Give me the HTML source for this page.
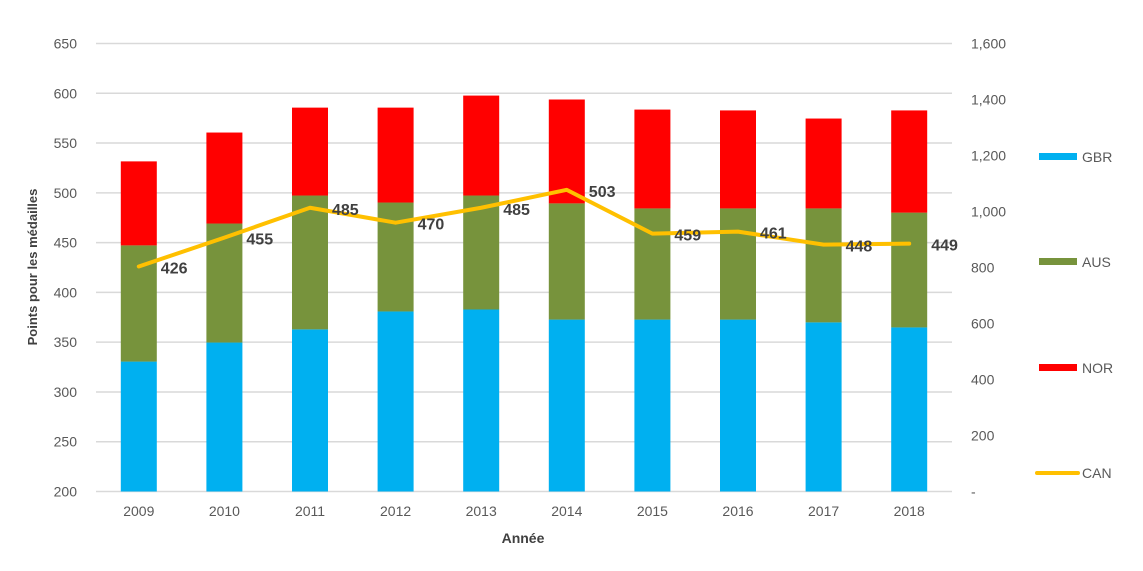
<!DOCTYPE html>
<html><head><meta charset="utf-8">
<style>
body{margin:0;background:#fff;}
svg text{font-family:"Liberation Sans",sans-serif;}
</style></head>
<body>
<svg id="chart" width="1143" height="566" xmlns="http://www.w3.org/2000/svg">
<g id="grid"></g>
<g id="bars"></g>
<g id="line"></g>
<g id="axes"></g>
<text transform="translate(37,267) rotate(-90)" text-anchor="middle" font-size="13" font-weight="bold" fill="#404040">Points pour les médailles</text>
<text x="523" y="543" text-anchor="middle" font-size="14" font-weight="bold" fill="#404040">Année</text>
<g>
<g><rect x="1039" y="153" width="38" height="7" fill="#00b0f0"/><text x="1082" y="162" font-size="14" fill="#595959">GBR</text></g>
<g><rect x="1039" y="258" width="38" height="7" fill="#77933c"/><text x="1082" y="267" font-size="14" fill="#595959">AUS</text></g>
<g><rect x="1039" y="364" width="38" height="7" fill="#ff0000"/><text x="1082" y="373" font-size="14" fill="#595959">NOR</text></g>
<g><line x1="1037" y1="473" x2="1078" y2="473" stroke="#ffc000" stroke-width="4" stroke-linecap="round"/><text x="1082" y="478" font-size="14" fill="#595959">CAN</text></g>
</g>
</svg>
<script>
const categories=["2009","2010","2011","2012","2013","2014","2015","2016","2017","2018"];
const gbr=[464,532,579,643,650,614,614,614,604,586];
const aus=[415,425,478,389,407,415,397,397,407,410];
const nor=[300,325,314,339,357,371,353,350,321,365];
const can=[426,455,485,470,485,503,459,461,448,449];
const leftTicks=[200,250,300,350,400,450,500,550,600,650];
const rightTicks=[0,200,400,600,800,1000,1200,1400,1600];
const rightLabels=["-","200","400","600","800","1,000","1,200","1,400","1,600"];

const NS="http://www.w3.org/2000/svg";
const X0=96,X1=952,YT=43.5,YB=491.5;
const step=(X1-X0)/categories.length;
function xc(i){return X0+step*(i+0.5);}
function yl(v){return YB-(v-200)/(650-200)*(YB-YT);}
function yr(v){return YB-v/1600*(YB-YT);}
function mk(tag,attrs,parent){const e=document.createElementNS(NS,tag);for(const k in attrs)e.setAttribute(k,attrs[k]);parent.appendChild(e);return e;}
const grid=document.getElementById('grid'),bars=document.getElementById('bars'),line=document.getElementById('line'),axes=document.getElementById('axes');
leftTicks.forEach(t=>{
 const g=mk('line',{x1:X0,x2:X1,y1:yl(t),y2:yl(t),stroke:'#d9d9d9','stroke-width':1.5},grid);
 
 
 const tx=mk('text',{x:77,y:yl(t)+5,'text-anchor':'end','font-size':14,fill:'#595959'},axes);
 tx.textContent=t;
 
 
});
rightTicks.forEach((t,i)=>{
 const tx=mk('text',{x:971,y:yr(t)+5,'font-size':14,fill:'#595959'},axes);
 tx.textContent=rightLabels[i];
 
 
});
const BW=36;
categories.forEach((c,i)=>{
 const x=xc(i)-BW/2;
 const segs=[[gbr[i],'#00b0f0','gbr'],[aus[i],'#77933c','aus'],[nor[i],'#ff0000','nor']];
 let base=0;
 segs.forEach(s=>{
  const r=mk('rect',{x:x,width:BW,y:yr(base+s[0]),height:yr(base)-yr(base+s[0]),fill:s[1]},bars);
  
  
  base+=s[0];
 });
 const tx=mk('text',{x:xc(i),y:516,'text-anchor':'middle','font-size':14,fill:'#595959'},axes);
 tx.textContent=c;
 
 
});
const pts=can.map((v,i)=>xc(i)+','+yl(v)).join(' ');
const pl=mk('polyline',{points:pts,fill:'none',stroke:'#ffc000','stroke-width':4,'stroke-linejoin':'round','stroke-linecap':'round'},line);


can.forEach((v,i)=>{
 const tx=mk('text',{x:xc(i)+22,y:yl(v)+7,'font-size':16,'font-weight':'bold',fill:'#404040'},line);
 tx.textContent=v;
 
 
});
</script>
</body></html>
